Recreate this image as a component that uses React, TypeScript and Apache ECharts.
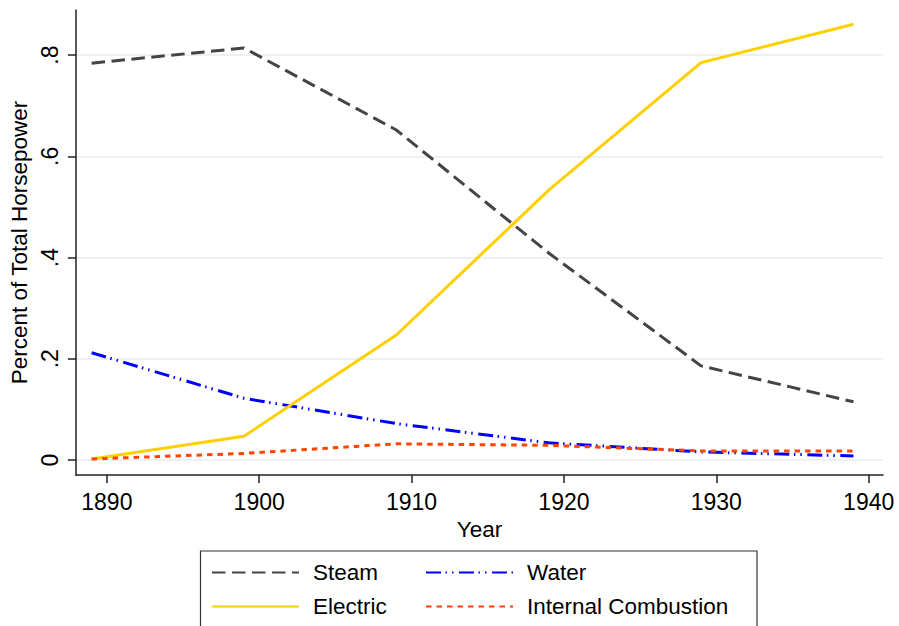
import React, { useEffect, useRef } from "react";
import * as echarts from "echarts";

const years = [1889, 1899, 1909, 1919, 1929, 1939];
const steam = [0.784, 0.814, 0.652, 0.409, 0.186, 0.115];
const electric = [0.002, 0.047, 0.247, 0.533, 0.785, 0.861];
const water = [0.212, 0.122, 0.072, 0.034, 0.016, 0.008];
const combustion = [0.002, 0.013, 0.032, 0.029, 0.018, 0.018];

const xTicks = [1890, 1900, 1910, 1920, 1930, 1940];
const xTickLabels = ["1890", "1900", "1910", "1920", "1930", "1940"];
const yTicks = [0, 0.2, 0.4, 0.6, 0.8];
const yTickLabels = ["0", ".2", ".4", ".6", ".8"];

const FONT = "'Liberation Sans', Arial, Helvetica, sans-serif";

export default function App() {
  const ref = useRef<HTMLDivElement>(null);
  useEffect(() => {
    document.body.style.margin = "0";
    const chart = echarts.init(ref.current!, undefined, { renderer: "svg" });
    const pairs = (vals: number[]) => years.map((y, i) => [y, vals[i]]);
    const axisColor = "#222";
    const gridColor = "#e6eef1";
    const mk = (name: string, vals: number[], color: string, type: any, z: number) => ({
      name,
      type: "line",
      data: pairs(vals),
      symbol: "none",
      showSymbol: false,
      z,
      lineStyle: { color, width: 3, type, cap: "butt" },
      itemStyle: { color },
    });
    const pick = (vals: number[], labels: string[]) => (v: number) => {
      const i = vals.findIndex((t) => Math.abs(t - v) < 1e-6);
      return i >= 0 ? labels[i] : "";
    };
    const legendCommon = {
      orient: "vertical",
      top: 561,
      itemWidth: 87,
      itemHeight: 22,
      itemGap: 11,
      padding: 0,
      itemStyle: { opacity: 0 },
      textStyle: { fontSize: 22.5, color: "#000", fontFamily: FONT, padding: [0, 0, 0, 9] },
    };
    chart.setOption({
      animation: false,
      backgroundColor: "#fff",
      textStyle: { fontFamily: FONT },
      grid: { left: 73, top: 10, right: 16, bottom: 151, containLabel: false },
      xAxis: {
        type: "value",
        min: 1887.97,
        max: 1940.94,
        name: "Year",
        nameLocation: "middle",
        nameGap: 41,
        nameTextStyle: { fontSize: 22.5, color: "#000", fontFamily: FONT },
        axisLine: { show: true, onZero: false, lineStyle: { color: axisColor, width: 1.5 } },
        axisTick: { show: true, length: 8, customValues: xTicks, lineStyle: { color: axisColor, width: 1.5 } },
        axisLabel: {
          customValues: xTicks,
          fontSize: 23,
          color: "#000",
          margin: 15,
          fontFamily: FONT,
          formatter: pick(xTicks, xTickLabels),
        },
        splitLine: { show: false },
      },
      yAxis: {
        type: "value",
        min: -0.0296,
        max: 0.889,
        name: "Percent of Total Horsepower",
        nameLocation: "middle",
        nameRotate: 90,
        nameGap: 40,
        nameTextStyle: { fontSize: 22.5, color: "#000", fontFamily: FONT },
        axisLine: { show: true, onZero: false, lineStyle: { color: axisColor, width: 1.5 } },
        axisTick: { show: true, length: 8, customValues: yTicks, lineStyle: { color: axisColor, width: 1.5 } },
        axisLabel: {
          customValues: yTicks,
          rotate: 90,
          fontSize: 23,
          color: "#000",
          margin: 14,
          fontFamily: FONT,
          formatter: pick(yTicks, yTickLabels),
        },
        splitLine: { show: true, lineStyle: { color: gridColor, width: 1.5 } },
      },
      legend: [
        { ...legendCommon, data: ["Steam", "Electric"], left: 211 },
        { ...legendCommon, data: ["Water", "Internal Combustion"], left: 425 },
      ],
      graphic: [
        {
          type: "rect",
          shape: { x: 200.5, y: 551, width: 556.5, height: 120 },
          style: { fill: "none", stroke: "#333", lineWidth: 1.2 },
          silent: true,
        },
      ],
      series: [
        mk("Steam", steam, "#444444", [13.5, 6.5], 4),
        mk("Water", water, "#0000ff", [15, 4.5, 1.5, 5, 1.5, 5.5], 3),
        mk("Electric", electric, "#ffcf00", "solid", 5),
        mk("Internal Combustion", combustion, "#ff4500", [5.5, 5], 6),
      ],
    });
    return () => chart.dispose();
  }, []);
  return <div ref={ref} style={{ width: 899, height: 626 }} />;
}
